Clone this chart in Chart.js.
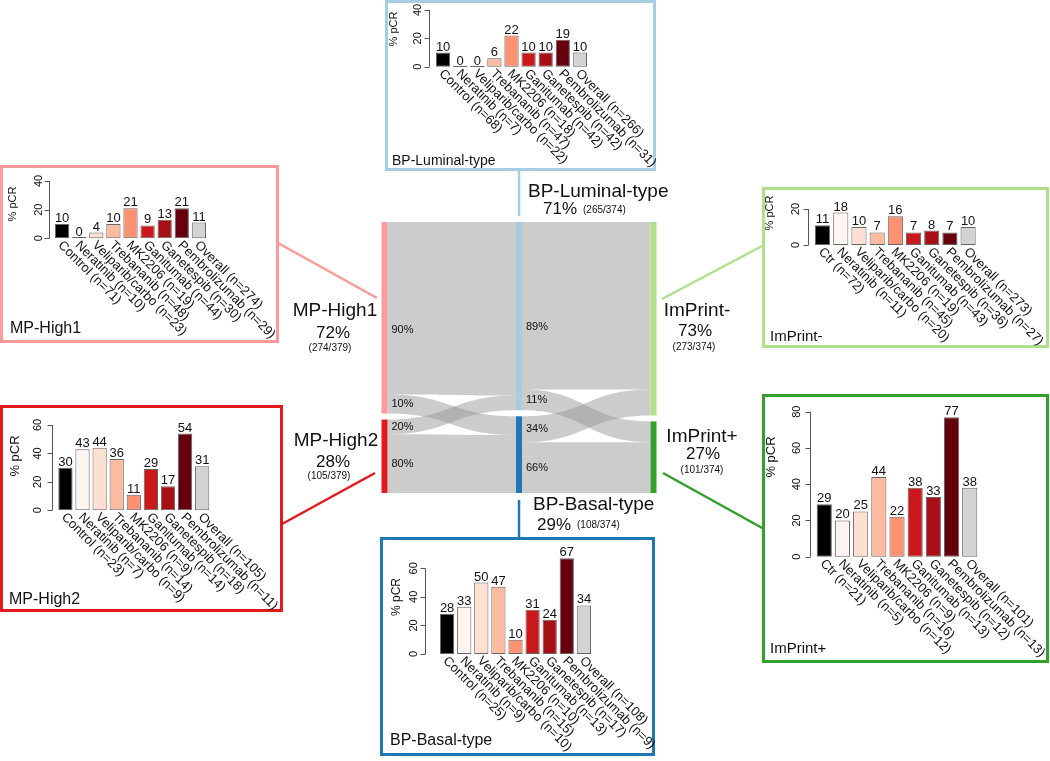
<!DOCTYPE html>
<html>
<head>
<meta charset="utf-8">
<title>pCR by response subtype</title>
<script src="https://cdn.jsdelivr.net/npm/chart.js@4.4.1/dist/chart.umd.min.js"></script>
<style>
  html, body { margin: 0; padding: 0; background: #fff; }
  #page { position: relative; width: 1050px; height: 761px; overflow: hidden; }
  #page canvas { position: absolute; }
</style>
</head>
<body>
<div id="page"></div>
<script>
// ---------- data ----------
const arms = ["Control", "Neratinib", "Veliparib/carbo", "Trebananib", "MK2206",
              "Ganitumab", "Ganetespib", "Pembrolizumab", "Overall"];
const armsShort = ["Ctr", "Neratinib", "Veliparib/carbo", "Trebananib", "MK2206",
                   "Ganitumab", "Ganetespib", "Pembrolizumab", "Overall"];
const armColors = ["#000000", "#fff5f0", "#fee0d2", "#fcbba1", "#fc9272",
                   "#cb181d", "#a50f15", "#67000d", "#d3d3d3"];

const lumPcr = [10, 0, 0, 6, 22, 10, 10, 19, 10];
const lumN = [68, 7, 22, 47, 18, 42, 42, 31, 266];
const mp1Pcr = [10, 0, 4, 10, 21, 9, 13, 21, 11];
const mp1N = [71, 10, 23, 48, 19, 44, 30, 29, 274];
const mp2Pcr = [30, 43, 44, 36, 11, 29, 17, 54, 31];
const mp2N = [23, 7, 9, 14, 9, 14, 18, 11, 105];
const basalPcr = [28, 33, 50, 47, 10, 31, 24, 67, 34];
const basalN = [25, 9, 10, 15, 10, 13, 17, 9, 108];
const impNegPcr = [11, 18, 10, 7, 16, 7, 8, 7, 10];
const impNegN = [72, 11, 20, 45, 19, 43, 36, 27, 273];
const impPosPcr = [29, 20, 25, 44, 22, 38, 33, 77, 38];
const impPosN = [21, 5, 12, 16, 9, 13, 12, 13, 101];

// alluvial: MP -> BP -> ImPrint
const mpNames = ["MP-High1", "MP-High2"];
const mpCounts = [274, 105];
const mpTotal = 379;
const bpNames = ["BP-Luminal-type", "BP-Basal-type"];
const bpCounts = [265, 108];
const bpTotal = 374;
const impNames = ["ImPrint-", "ImPrint+"];
const impCounts = [273, 101];
const impTotal = 374;
const mpToBp = [[90, 10], [20, 80]];    // % of each MP class going to each BP class
const bpToImp = [[89, 11], [34, 66]];   // % of each BP class going to each ImPrint class

// ---------- helpers ----------
const FONT = "'Liberation Sans', Arial, Helvetica, sans-serif";
const page = document.getElementById('page');

function addCanvas(x, y, w, h) {
  const c = document.createElement('canvas');
  c.width = w; c.height = h;
  c.style.left = x + 'px'; c.style.top = y + 'px';
  c.style.width = w + 'px'; c.style.height = h + 'px';
  page.appendChild(c);
  return c;
}

// ---------- central alluvial ----------
const NODE_GAP = 6 / 271;
const BAR_W = 6;
const nodeColors = [["#fb9a99", "#e31a1c"], ["#a6cee3", "#1f78b4"], ["#b2df8a", "#33a02c"]];

function stack(counts) {
  const total = counts.reduce((a, b) => a + b, 0);
  const usable = 1 - NODE_GAP * (counts.length - 1);
  let pos = 0;
  return counts.map(c => {
    const h = c / total * usable;
    const r = { top: pos, bottom: pos + h };
    pos += h + NODE_GAP;
    return r;
  });
}

function makeFlows(src, dst, srcCounts, pct) {
  const f = pct.map((row, i) => row.map(p => srcCounts[i] * p / 100));
  const inTot = dst.map((_, j) => f.reduce((s, row) => s + row[j], 0));
  const sc = src.map(n => n.top), dc = dst.map(n => n.top);
  const out = [];
  pct.forEach((row, i) => row.forEach((p, j) => {
    const sh = (src[i].bottom - src[i].top) * p / 100;
    const dh = (dst[j].bottom - dst[j].top) * f[i][j] / inTot[j];
    out.push({ p, s0: sc[i], s1: sc[i] + sh, d0: dc[j], d1: dc[j] + dh });
    sc[i] += sh; dc[j] += dh;
  }));
  return out;
}

const cols = [stack(mpCounts), stack(bpCounts), stack(impCounts)];
const flowSets = [makeFlows(cols[0], cols[1], mpCounts, mpToBp),
                  makeFlows(cols[1], cols[2], bpCounts, bpToImp)];

function pctText(c, t) { return Math.round(c / t * 100) + '%'; }

const nodeLabels = [
  { align: 'center', name: mpNames[0], pct: pctText(mpCounts[0], mpTotal), frac: '(' + mpCounts[0] + '/' + mpTotal + ')', at: [[335, 316], [333, 338], [330, 351]] },
  { align: 'center', name: mpNames[1], pct: pctText(mpCounts[1], mpTotal), frac: '(' + mpCounts[1] + '/' + mpTotal + ')', at: [[336, 446], [333, 467], [329, 479]] },
  { align: 'left', name: bpNames[0], pct: pctText(bpCounts[0], bpTotal), frac: '(' + bpCounts[0] + '/' + bpTotal + ')', at: [[528, 197], [543, 214], [583, 213]] },
  { align: 'left', name: bpNames[1], pct: pctText(bpCounts[1], bpTotal), frac: '(' + bpCounts[1] + '/' + bpTotal + ')', at: [[533, 510], [537, 530], [577, 528]] },
  { align: 'center', name: impNames[0], pct: pctText(impCounts[0], impTotal), frac: '(' + impCounts[0] + '/' + impTotal + ')', at: [[697, 316], [695, 336], [694, 350]] },
  { align: 'center', name: impNames[1], pct: pctText(impCounts[1], impTotal), frac: '(' + impCounts[1] + '/' + impTotal + ')', at: [[702, 442], [703, 459], [702, 473]] }
];

// connector lines from the alluvial to the panels
const connectors = [
  { c: "#fb9a99", from: [278, 243], to: [377, 298] },
  { c: "#e31a1c", from: [282, 524], to: [375, 473] },
  { c: "#b2df8a", from: [662, 299], to: [764, 245] },
  { c: "#33a02c", from: [663, 473], to: [764, 529] }
];

const alluvialPlugin = {
  id: 'alluvial',
  afterDraw(chart) {
    const { ctx } = chart;
    const x = chart.scales.x, y = chart.scales.y;
    ctx.save();
    // flows
    flowSets.forEach((flows, k) => {
      const xa = x.getPixelForValue(k) + BAR_W / 2;
      const xb = x.getPixelForValue(k + 1) - BAR_W / 2;
      const xm = (xa + xb) / 2;
      flows.forEach(fl => {
        const s0 = y.getPixelForValue(fl.s0), s1 = y.getPixelForValue(fl.s1);
        const d0 = y.getPixelForValue(fl.d0), d1 = y.getPixelForValue(fl.d1);
        ctx.beginPath();
        ctx.moveTo(xa, s0);
        ctx.bezierCurveTo(xm, s0, xm, d0, xb, d0);
        ctx.lineTo(xb, d1);
        ctx.bezierCurveTo(xm, d1, xm, s1, xa, s1);
        ctx.closePath();
        ctx.fillStyle = 'rgba(153,153,153,0.5)';
        ctx.fill();
      });
    });
    // nodes
    cols.forEach((nodes, k) => {
      const xc = x.getPixelForValue(k);
      nodes.forEach((n, i) => {
        const t = y.getPixelForValue(n.top), b = y.getPixelForValue(n.bottom);
        ctx.fillStyle = nodeColors[k][i];
        ctx.fillRect(xc - BAR_W / 2, t, BAR_W, b - t);
      });
    });
    // flow percentages
    ctx.fillStyle = '#111';
    ctx.font = '11px ' + FONT;
    ctx.textAlign = 'left';
    ctx.textBaseline = 'middle';
    flowSets.forEach((flows, k) => {
      const xa = x.getPixelForValue(k) + BAR_W / 2 + 4;
      flows.forEach(fl => {
        const shift = (fl.s1 - fl.s0) > 0.5 ? 0.08 : 0;
        ctx.fillText(fl.p + '%', xa, y.getPixelForValue((fl.s0 + fl.s1) / 2 + shift));
      });
    });
    // node labels
    nodeLabels.forEach(l => {
      ctx.textAlign = l.align;
      ctx.textBaseline = 'alphabetic';
      ctx.font = '19px ' + FONT;
      ctx.fillText(l.name, l.at[0][0], l.at[0][1]);
      ctx.font = '17px ' + FONT;
      ctx.fillText(l.pct, l.at[1][0], l.at[1][1]);
      ctx.font = '10px ' + FONT;
      ctx.fillText(l.frac, l.at[2][0], l.at[2][1]);
    });
    // connectors
    ctx.lineWidth = 2.5;
    const xm = x.getPixelForValue(1);
    ctx.strokeStyle = nodeColors[1][0];
    ctx.beginPath(); ctx.moveTo(xm, 170); ctx.lineTo(xm, 216); ctx.stroke();
    ctx.strokeStyle = nodeColors[1][1];
    ctx.beginPath(); ctx.moveTo(xm, 500); ctx.lineTo(xm, 539); ctx.stroke();
    connectors.forEach(cn => {
      ctx.strokeStyle = cn.c;
      ctx.beginPath(); ctx.moveTo(cn.from[0], cn.from[1]); ctx.lineTo(cn.to[0], cn.to[1]); ctx.stroke();
    });
    ctx.restore();
  }
};

new Chart(addCanvas(0, 0, 1050, 761), {
  type: 'scatter',
  data: { datasets: [] },
  options: {
    responsive: false,
    animation: false,
    events: [],
    layout: { padding: { left: 384.5, right: 1050 - 653.5, top: 222, bottom: 761 - 493 } },
    scales: {
      x: { type: 'linear', min: 0, max: 2, display: false },
      y: { type: 'linear', min: 0, max: 1, reverse: true, display: false }
    },
    plugins: { legend: { display: false }, tooltip: { enabled: false } }
  },
  plugins: [alluvialPlugin]
});

// ---------- bar panels ----------
const panels = [
  { title: "BP-Luminal-type", color: "#a6cee3", names: arms, pcr: lumPcr, n: lumN,
    box: [385, 0, 271, 171], bars: [436, 587], y0: 66.7, topPx: 10, topTick: 40,
    axisX: 429, tickX: 418, titleX: 394, titleY: 29, titleSize: 11, label: [392, 165], labelSize: 14 },
  { title: "MP-High1", color: "#fb9a99", names: arms, pcr: mp1Pcr, n: mp1N,
    box: [0, 165, 279, 178], bars: [55, 206], y0: 238.3, topPx: 181, topTick: 40,
    axisX: 49, tickX: 39, titleX: 13, titleY: 204, titleSize: 11, label: [10, 333], labelSize: 16 },
  { title: "MP-High2", color: "#e31a1c", names: arms, pcr: mp2Pcr, n: mp2N,
    box: [0, 405, 283, 207], bars: [58.3, 209.3], y0: 510.3, topPx: 425, topTick: 60,
    axisX: 52.3, tickX: 38.3, titleX: 15, titleY: 456, titleSize: 13, label: [9, 604], labelSize: 16 },
  { title: "BP-Basal-type", color: "#1f78b4", names: arms, pcr: basalPcr, n: basalN,
    box: [380, 537, 275, 219], bars: [440, 591], y0: 654, topPx: 568.3, topTick: 60,
    axisX: 425, tickX: 414, titleX: 397, titleY: 597, titleSize: 12, label: [390, 745], labelSize: 16 },
  { title: "ImPrint-", color: "#b2df8a", names: armsShort, pcr: impNegPcr, n: impNegN,
    box: [762, 187, 287, 161], bars: [815, 975.7], y0: 245, topPx: 209, topTick: 20,
    axisX: 808.3, tickX: 795.7, titleX: 770, titleY: 213, titleSize: 11, label: [770, 341], labelSize: 15 },
  { title: "ImPrint+", color: "#33a02c", names: armsShort, pcr: impPosPcr, n: impPosN,
    box: [762, 394, 287, 269], bars: [816.7, 977.3], y0: 556.7, topPx: 411.7, topTick: 80,
    axisX: 810, tickX: 796.7, titleX: 771.7, titleY: 457, titleSize: 13, label: [770, 653], labelSize: 15 }
];

function panelDecor(p) {
  const bx = p.box[0], by = p.box[1];
  return {
    id: 'panelDecor',
    afterDraw(chart) {
      const { ctx } = chart;
      const ys = chart.scales.y;
      const meta = chart.getDatasetMeta(0);
      ctx.save();
      // frame
      ctx.strokeStyle = p.color;
      ctx.lineWidth = 3;
      ctx.strokeRect(1.5, 1.5, p.box[2] - 3, p.box[3] - 3);
      // y axis (R style)
      const ax = Math.round(p.axisX - bx) + 0.5;
      const yb = ys.getPixelForValue(0), yt = ys.getPixelForValue(p.topTick);
      ctx.strokeStyle = '#555';
      ctx.lineWidth = 1;
      ctx.beginPath();
      ctx.moveTo(ax, yb); ctx.lineTo(ax, yt);
      for (let t = 0; t <= p.topTick; t += 20) {
        const yy = Math.round(ys.getPixelForValue(t)) + 0.5;
        ctx.moveTo(ax, yy); ctx.lineTo(ax - 5, yy);
      }
      ctx.stroke();
      ctx.fillStyle = '#111';
      ctx.font = '11px ' + FONT;
      ctx.textAlign = 'center';
      ctx.textBaseline = 'middle';
      for (let t = 0; t <= p.topTick; t += 20) {
        ctx.save();
        ctx.translate(p.tickX - bx, ys.getPixelForValue(t));
        ctx.rotate(-Math.PI / 2);
        ctx.fillText(String(t), 0, 0);
        ctx.restore();
      }
      ctx.save();
      ctx.font = p.titleSize + 'px ' + FONT;
      ctx.translate(p.titleX - bx, p.titleY - by);
      ctx.rotate(-Math.PI / 2);
      ctx.fillText('% pCR', 0, 0);
      ctx.restore();
      // zero-height bars, values, category labels
      meta.data.forEach((bar, i) => {
        const v = p.pcr[i];
        if (v === 0) {
          ctx.strokeStyle = '#666';
          ctx.beginPath();
          ctx.moveTo(bar.x - bar.width / 2, Math.round(yb) - 0.5);
          ctx.lineTo(bar.x + bar.width / 2, Math.round(yb) - 0.5);
          ctx.stroke();
        }
        ctx.fillStyle = '#111';
        ctx.font = '13px ' + FONT;
        ctx.textAlign = 'center';
        ctx.textBaseline = 'alphabetic';
        ctx.fillText(String(v), bar.x, bar.y - 2);
        ctx.save();
        ctx.translate(bar.x - 2, yb + 5);
        ctx.rotate(Math.PI / 4);
        ctx.textAlign = 'left';
        ctx.textBaseline = 'middle';
        ctx.fillText(p.names[i] + ' (n=' + p.n[i] + ')', 0, 0);
        ctx.restore();
      });
      // panel name
      ctx.font = p.labelSize + 'px ' + FONT;
      ctx.textAlign = 'left';
      ctx.textBaseline = 'alphabetic';
      ctx.fillText(p.title, p.label[0] - bx, p.label[1] - by);
      ctx.restore();
    }
  };
}

panels.forEach(p => {
  const [bx, by, bw, bh] = p.box;
  const w = (p.bars[1] - p.bars[0]) / 10.6;   // bar width, 0.2 spacing as in barplot
  const left = p.bars[0] - 0.1 * w, right = p.bars[1] + 0.1 * w;
  new Chart(addCanvas(bx, by, bw, bh), {
    type: 'bar',
    data: {
      labels: p.names,
      datasets: [{
        data: p.pcr,
        backgroundColor: armColors,
        borderColor: '#666',
        borderWidth: 1,
        borderSkipped: false,
        barPercentage: 1 / 1.2,
        categoryPercentage: 1,
        clip: false
      }]
    },
    options: {
      responsive: false,
      animation: false,
      events: [],
      layout: { padding: { left: left - bx, right: bx + bw - right, top: p.topPx - by, bottom: by + bh - p.y0 } },
      scales: {
        x: { type: 'category', display: false, offset: true },
        y: { min: 0, max: p.topTick, display: false }
      },
      plugins: { legend: { display: false }, tooltip: { enabled: false } }
    },
    plugins: [panelDecor(p)]
  });
});
</script>
</body>
</html>
